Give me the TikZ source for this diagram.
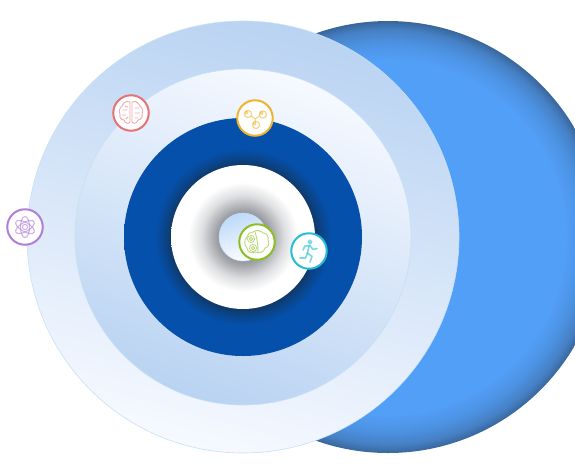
\documentclass[tikz,border=0pt]{standalone}
\usetikzlibrary{shapes.geometric}
\definecolor{bigA}{HTML}{529FF7}
\definecolor{bigB}{HTML}{4C92E2}
\definecolor{bigC}{HTML}{4680C4}
\definecolor{bigD}{HTML}{38669B}
\definecolor{ringD}{HTML}{103868}
\definecolor{ringM}{HTML}{0A4488}
\definecolor{ringB}{HTML}{0550AB}
\definecolor{coreG}{HTML}{9A9DA2}
\definecolor{coreM}{HTML}{DEDFE1}
\definecolor{discA}{HTML}{B9D3F2}
\definecolor{discB}{HTML}{F6F9FF}
\definecolor{edgeC}{HTML}{C6E0F6}
\definecolor{coreTop}{HTML}{BDD9FA}
\definecolor{brainC}{HTML}{E57373}
\definecolor{molC}{HTML}{EDB52F}
\definecolor{atomC}{HTML}{AF7FD8}
\definecolor{gearC}{HTML}{8CBE22}
\definecolor{runC}{HTML}{25BDD3}
\pgfdeclareradialshading{bigsphere}{\pgfpoint{0bp}{0bp}}{
  color(0bp)=(bigA); color(20.5bp)=(bigA); color(22.5bp)=(bigB); color(24bp)=(bigC); color(25bp)=(bigD); color(50bp)=(bigD)}
\pgfdeclareradialshading{ringglow}{\pgfpoint{0bp}{0bp}}{
  color(0bp)=(ringD); color(15.1bp)=(ringD); color(16.5bp)=(ringM); color(18.5bp)=(ringB); color(50bp)=(ringB)}
\pgfdeclareradialshading{coreglow}{\pgfpoint{0bp}{0bp}}{
  color(0bp)=(coreG); color(9bp)=(coreG); color(14.5bp)=(coreM); color(19bp)=(white); color(50bp)=(white)}
\tikzset{
  x=1pt,y=-1pt,
  disc/.style={circle,inner sep=0pt,outer sep=0pt,minimum size=#1*2pt},
  badge/.style={circle,inner sep=0pt,outer sep=0pt,minimum size=35.5pt,fill=white,line width=2pt},
  iconline/.style={line width=0.9pt,opacity=0.6,line join=round,line cap=round},
}
\begin{document}
\begin{tikzpicture}
\useasboundingbox (0,0) rectangle (575,472);
\begin{scope}
\clip (0,0) rectangle (575,472);
\node[disc=216,shading=bigsphere] (sphere) at (388,237) {};
\end{scope}
\node[disc=216,draw=edgeC,line width=0.6pt,top color=discA,bottom color=discB,shading angle=-15] (d1) at (243,237) {};
\node[disc=168,draw=edgeC,line width=0.6pt,top color=discB,bottom color=discA,shading angle=-20] (d2) at (243,237) {};
\node[disc=119,shading=ringglow] (d3) at (243,237) {};
\node[disc=72,shading=coreglow] (d4) at (243,237) {};
\node[disc=24,draw=edgeC,line width=0.4pt,top color=coreTop,bottom color=white,shading angle=20] (d5) at (243,237) {};

% brain badge
\node[badge,draw=brainC] (brain) at (131,113) {};
\begin{scope}[shift={(brain.center)},iconline,draw=brainC]
\draw (-1,-11) .. controls (-6,-13) and (-8,-9) .. (-9,-7) .. controls (-12,-5) and (-12,-1) .. (-11,1) .. controls (-12,4) and (-10,7) .. (-7,7) .. controls (-6,11) and (-2,11) .. (-1,9) -- cycle;
\draw (1,-11) .. controls (6,-13) and (8,-9) .. (9,-7) .. controls (12,-5) and (12,-1) .. (11,1) .. controls (12,4) and (10,7) .. (7,7) .. controls (6,11) and (2,11) .. (1,9) -- cycle;
\draw (-8,-3) -- (-4,-3) (-9,2) -- (-5,2) (-6,-7) -- (-3,-6) (4,-5) -- (8,-5) (4,0) -- (9,0) (4,5) -- (7,5) (-5,6) -- (-3,4);
\end{scope}

% molecule badge
\node[badge,draw=molC] (mol) at (255,118) {};
\begin{scope}[shift={(mol.center)},iconline,draw=molC,line width=1.1pt]
\draw (-7,-4) circle (3.6) (8,-3.5) circle (3.6) (1,7) circle (3.6);
\draw (-8.5,-5.5) circle (1.5) (6.5,-5) circle (1.5) (-0.5,5.5) circle (1.5);
\draw (-3.5,-2) -- (0,1) -- (4.5,-2) (0,1) -- (0.6,3.5);
\end{scope}

% atom badge
\node[badge,draw=atomC] (atom) at (25,227) {};
\begin{scope}[shift={(atom.center)},iconline,draw=atomC,line width=1.1pt]
\draw (0,0) circle (2.6);
\draw[rotate=30] (0,0) ellipse (10.5 and 4.5);
\draw[rotate=90] (0,0) ellipse (10.5 and 4.5);
\draw[rotate=150] (0,0) ellipse (10.5 and 4.5);
\end{scope}

% gear-brain badge
\node[badge,draw=gearC] (gears) at (257,242) {};
\begin{scope}[shift={(gears.center)},iconline,draw=gearC]
\draw (-4,-10) .. controls (0,-13) and (4,-11) .. (6,-9) .. controls (10,-9) and (12,-5) .. (11,-2) .. controls (13,1) and (11,6) .. (8,6) .. controls (7,10) and (2,12) .. (-1,10) .. controls (-5,12) and (-10,10) .. (-10,6) .. controls (-13,3) and (-13,-3) .. (-10,-5) .. controls (-10,-8) and (-7,-10) .. (-4,-10) -- cycle;
\draw[dash pattern=on 1pt off 0.7pt] (-6,-3) circle (3.6) (-4,6) circle (3.6);
\draw (-6,-3) circle (1.7) (-4,6) circle (1.7);
\draw (-2,-10) .. controls (0,-5) and (1,3) .. (1,10);
\end{scope}

% runner badge
\node[badge,draw=runC] (runner) at (309,251) {};
\begin{scope}[shift={(runner.center)},iconline,draw=runC,line width=1.6pt,opacity=0.6]
\draw (1,-9) circle (1.8);
\draw (0,-5) -- (-1.5,2) -- (3,5.5) -- (1,11);
\draw (-1.5,2) -- (-3.5,7) -- (-9,7);
\draw (-6,-1) -- (-4,-5) -- (1,-5.5) -- (4,-1.5) -- (8,-2.5);
\end{scope}
\end{tikzpicture}
\end{document}
